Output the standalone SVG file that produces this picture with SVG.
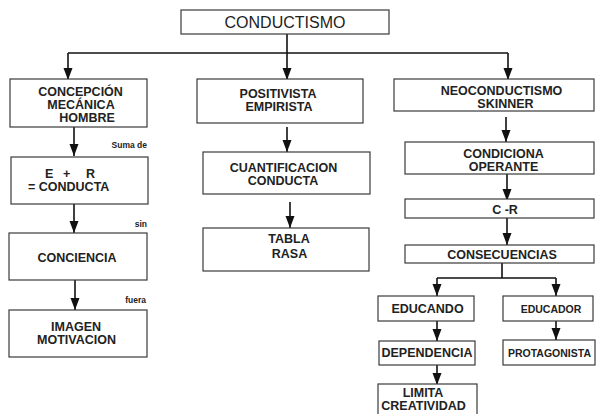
<svg xmlns="http://www.w3.org/2000/svg" width="597" height="414" viewBox="0 0 597 414">
<style>
.box{fill:#fff;stroke:#3a3a3a;stroke-width:1.2}
.t{font-family:"Liberation Sans",Arial,sans-serif;font-weight:bold;font-size:12.5px;fill:#222;text-anchor:middle}
.s{font-family:"Liberation Sans",Arial,sans-serif;font-weight:bold;font-size:10.5px;fill:#222;text-anchor:middle}
.lbl{font-family:"Liberation Sans",Arial,sans-serif;font-weight:bold;font-size:8.5px;fill:#222;text-anchor:end}
.title{font-family:"Liberation Sans",Arial,sans-serif;font-size:16px;fill:#222;text-anchor:middle}
.c{fill:none;stroke:#111;stroke-width:1.6}
.ca{fill:none;stroke:#111;stroke-width:1.6;marker-end:url(#ah)}
</style>
<defs>
<marker id="ah" markerUnits="userSpaceOnUse" markerWidth="10" markerHeight="12" refX="4.5" refY="12" orient="0" viewBox="0 0 9 12">
<path d="M0,0 L9,0 L4.5,12 z" fill="#111"/>
</marker>
</defs>
<rect width="597" height="414" fill="#fff"/>
<g id="connectors">
<path class="ca" d="M287,34 V80"/>
<path class="c" d="M68,53 H508"/>
<path class="ca" d="M68,53 V80"/>
<path class="ca" d="M508,53 V80"/>
<path class="ca" d="M74,127 V156"/>
<path class="ca" d="M74,204 V233"/>
<path class="ca" d="M75,280 V310"/>
<path class="ca" d="M287,127 V152"/>
<path class="ca" d="M290,202 V228"/>
<path class="ca" d="M506,117 V142"/>
<path class="ca" d="M507,174 V201"/>
<path class="ca" d="M507,218 V245"/>
<path class="c" d="M502,263 V278 M437,278 H556"/>
<path class="ca" d="M437,278 V296"/>
<path class="ca" d="M556,278 V296"/>
<path class="ca" d="M437,321 V341"/>
<path class="ca" d="M556,321 V340"/>
<path class="ca" d="M437,365 V385"/>
</g>
<g id="conductismo">
<rect class="box" x="181" y="10" width="208" height="24"/>
<text class="title" x="285" y="28">CONDUCTISMO</text>
</g>
<g id="concepcion">
<rect class="box" x="10" y="79" width="137" height="48"/>
<text class="t" x="80.5" y="96">CONCEPCIÓN</text>
<text class="t" x="81" y="109">MECÁNICA</text>
<text class="t" x="87" y="122">HOMBRE</text>
</g>
<g id="positivista">
<rect class="box" x="197" y="79" width="166" height="44"/>
<text class="t" x="278" y="98">POSITIVISTA</text>
<text class="t" x="279" y="111">EMPIRISTA</text>
</g>
<g id="neoconductismo">
<rect class="box" x="394" y="79" width="200" height="32"/>
<text class="t" x="501.5" y="95">NEOCONDUCTISMO</text>
<text class="t" x="505.5" y="108">SKINNER</text>
</g>
<g id="er">
<text class="lbl" x="147" y="148">Suma de</text>
<rect class="box" x="11" y="157" width="137" height="47"/>
<text class="t" style="text-anchor:start" y="178"><tspan x="45">E</tspan><tspan x="63">+</tspan><tspan x="86">R</tspan></text>
<text class="t" style="text-anchor:start" x="28" y="191">= CONDUCTA</text>
</g>
<g id="conciencia">
<text class="lbl" x="147" y="227">sin</text>
<rect class="box" x="9" y="233" width="138" height="47"/>
<text class="t" x="77" y="262">CONCIENCIA</text>
</g>
<g id="imagen">
<text class="lbl" x="146" y="303">fuera</text>
<rect class="box" x="9" y="310" width="138" height="47"/>
<text class="t" x="76" y="331">IMAGEN</text>
<text class="t" x="76.5" y="344">MOTIVACION</text>
</g>
<g id="cuantificacion">
<rect class="box" x="203" y="152" width="167" height="42"/>
<text class="t" x="283.5" y="172">CUANTIFICACION</text>
<text class="t" x="283" y="185">CONDUCTA</text>
</g>
<g id="tabla">
<rect class="box" x="203" y="228" width="166" height="43"/>
<text class="t" x="289" y="243">TABLA</text>
<text class="t" x="289.5" y="258">RASA</text>
</g>
<g id="condiciona">
<rect class="box" x="405" y="142" width="189" height="32"/>
<text class="t" x="503.5" y="158">CONDICIONA</text>
<text class="t" x="503.5" y="171">OPERANTE</text>
</g>
<g id="cr">
<rect class="box" x="405" y="199" width="189" height="19"/>
<text class="t" x="505" y="214">C -R</text>
</g>
<g id="consecuencias">
<rect class="box" x="405" y="245" width="189" height="18"/>
<text class="t" x="502" y="259">CONSECUENCIAS</text>
</g>
<g id="educando">
<rect class="box" x="378" y="296" width="96" height="25"/>
<text class="t" x="427.5" y="313">EDUCANDO</text>
</g>
<g id="educador">
<rect class="box" x="503" y="296" width="90" height="25"/>
<text class="s" x="551" y="313">EDUCADOR</text>
</g>
<g id="dependencia">
<rect class="box" x="379" y="341" width="96" height="24"/>
<text class="t" x="427" y="357">DEPENDENCIA</text>
</g>
<g id="protagonista">
<rect class="box" x="503" y="340" width="92" height="25"/>
<text class="s" x="549.5" y="357">PROTAGONISTA</text>
</g>
<g id="limita">
<rect class="box" x="378" y="384" width="99" height="40"/>
<text class="t" x="423" y="397">LIMITA</text>
<text class="t" x="423.5" y="410">CREATIVIDAD</text>
</g>
</svg>
